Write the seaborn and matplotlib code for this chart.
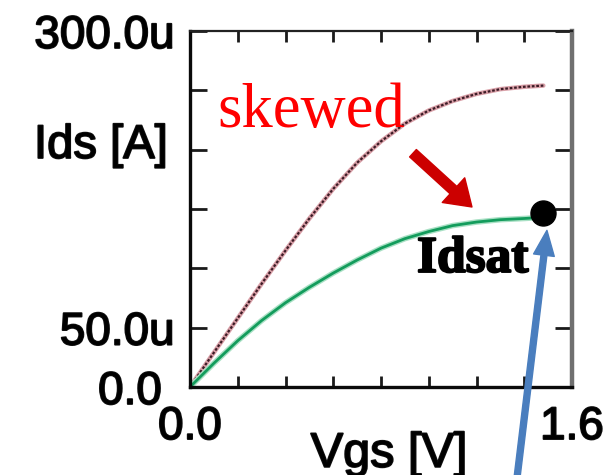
import numpy as np
import pandas as pd
import seaborn as sns
import matplotlib.pyplot as plt
import matplotlib.patheffects as pe

# Vgs [V] and Ids [uA]
vgs = [0.0, 0.1, 0.2, 0.3, 0.4, 0.5, 0.6, 0.7, 0.8, 0.9, 1.0, 1.1, 1.2, 1.3, 1.4, 1.48]
ids_skewed = [0, 29, 58, 87, 115, 142, 167, 189, 207, 222, 233, 241, 247, 251, 253, 254]
ids_normal = [0, 20, 39, 56, 71, 84, 96, 107, 117, 125, 131, 136, 139, 141, 142, 143]
idsat_point = (1.48, 147)

x_ticks = [0.0, 0.2, 0.4, 0.6, 0.8, 1.0, 1.2, 1.4, 1.6]
x_labels = ["0.0", "", "", "", "", "", "", "", "1.6"]
y_ticks = [0, 50, 100, 150, 200, 250, 300]
y_labels = ["0.0 ", "50.0u", "", "", "", "", "300.0u"]

df = pd.DataFrame({"Vgs": vgs, "skewed": ids_skewed, "normal": ids_normal})

sns.set_style("white")
plt.rcParams["font.family"] = ["Liberation Sans", "DejaVu Sans"]
plt.rcParams["text.color"] = "black"
plt.rcParams["axes.labelcolor"] = "black"
plt.rcParams["xtick.color"] = "black"
plt.rcParams["ytick.color"] = "black"

# slightly heavier than regular, like the blurry labels in the original
heavy = [pe.withStroke(linewidth=1.3, foreground="#111111")]

fig = plt.figure(figsize=(6.03, 4.75), dpi=100)
ax = fig.add_axes([190 / 603, 88 / 475, 382 / 603, 356 / 475])

# skewed curve: pinkish halo with a dark dotted core
sns.lineplot(data=df, x="Vgs", y="skewed", ax=ax, color="#d9a0a8", lw=3.2)
sns.lineplot(data=df, x="Vgs", y="skewed", ax=ax, color="#3c1c26", lw=1.6,
             linestyle=(0, (1.2, 0.8)))
# normal curve in green
sns.lineplot(data=df, x="Vgs", y="normal", ax=ax, color="#a8e0c4", lw=4)
sns.lineplot(data=df, x="Vgs", y="normal", ax=ax, color="#139c5c", lw=2)

ax.plot(*idsat_point, "o", color="black", ms=18, clip_on=False, zorder=5)

ax.set_xlim(0, 1.6)
ax.set_ylim(0, 300)
ax.set_xticks(x_ticks)
ax.set_xticklabels(x_labels)
ax.set_yticks(y_ticks)
ax.set_yticklabels(y_labels)
for lab in ax.get_xticklabels() + ax.get_yticklabels():
    lab.set_path_effects(heavy)

ax.tick_params(axis="y", direction="in", left=True, right=True, length=12,
               width=2, color="#1a1a1a", labelsize=33, pad=11)
ax.tick_params(axis="x", direction="in", top=True, bottom=True, length=8,
               width=2, color="#1a1a1a", labelsize=33, pad=13)

for side, c, w in [("left", "#0a0a0a", 2.4), ("top", "#222222", 1.6),
                   ("right", "#707070", 3.2), ("bottom", "#0a0a0a", 2.4)]:
    ax.spines[side].set_visible(True)
    ax.spines[side].set_color(c)
    ax.spines[side].set_linewidth(w)

ax.set_ylabel("Ids [A]", fontsize=34, rotation=0, ha="right", va="center",
              path_effects=heavy)
ax.yaxis.set_label_coords(-0.058, 0.677)
ax.set_xlabel("Vgs [V]", fontsize=35, va="top", path_effects=heavy)
ax.xaxis.set_label_coords(0.521, -0.126)

ax.text(0.113, 219, "skewed", color="#ff0000", fontsize=45,
        family="Liberation Serif", va="baseline", ha="left")
ax.text(0.951, 97, "Idsat", color="black", fontsize=37, fontweight="bold",
        family="Liberation Serif", va="baseline", ha="left",
        path_effects=[pe.withStroke(linewidth=1.5, foreground="black")])

ax.annotate("", xy=(1.181, 151.7), xytext=(0.934, 197),
            arrowprops=dict(arrowstyle="simple,head_length=1.8,head_width=2.4,tail_width=0.72",
                            color="#cc0000", mutation_scale=10, shrinkA=0, shrinkB=0))
ax.annotate("", xy=(1.495, 132), xytext=(1.370, -76), annotation_clip=False,
            arrowprops=dict(arrowstyle="simple,head_length=1.8,head_width=1.5,tail_width=0.43",
                            color="#4a7ebe", mutation_scale=10, shrinkA=0, shrinkB=0))

fig.savefig("out.png", dpi=100)
